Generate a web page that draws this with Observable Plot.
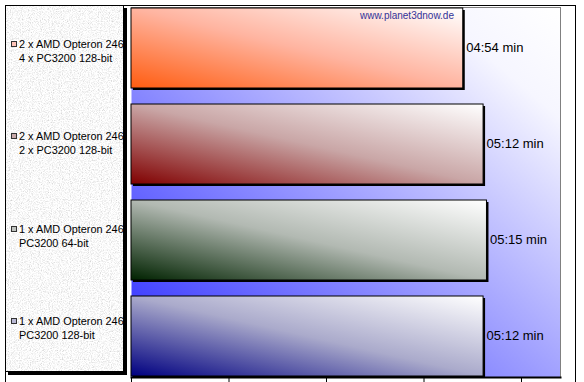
<!DOCTYPE html>
<html>
<head>
<meta charset="utf-8">
<script src="https://cdn.jsdelivr.net/npm/d3@7"></script>
<script src="https://cdn.jsdelivr.net/npm/@observablehq/plot@0.6"></script>
<style>
  html, body { margin: 0; padding: 0; background: #fff; overflow: hidden; }
  #wrap { position: relative; width: 584px; height: 382px; overflow: hidden; font-family: "Liberation Sans", Arial, sans-serif; }
  #chart { position: absolute; left: 0; top: 0; }
  #frame { position: absolute; left: 5px; top: 5px; width: 571px; height: 420px; border: 1px solid #000; box-sizing: border-box; pointer-events: none; }
  #legend { position: absolute; left: 5px; top: 5px; width: 119px; height: 367px; border: 1px solid #000; box-sizing: border-box; box-shadow: 3px 3px 0 #000; overflow: hidden; }
  #legend svg.tex { position: absolute; left: 0; top: 0; }
  .lg { position: absolute; font-size: 10.9px; line-height: 14px; color: #000; white-space: nowrap; }
  .mk { position: absolute; width: 4px; height: 4px; border: 1px solid #333; }
  #wm { position: absolute; font-size: 10px; color: #333399; white-space: nowrap; }
</style>
</head>
<body>
<div id="wrap">
  <div id="chart"></div>
  <div id="legend">
    <svg class="tex" width="119" height="367">
      <filter id="noise" x="0" y="0" width="100%" height="100%">
        <feTurbulence type="fractalNoise" baseFrequency="0.9" numOctaves="3" seed="7"/>
        <feColorMatrix type="saturate" values="0"/>
        <feComponentTransfer>
          <feFuncR type="linear" slope="1.0" intercept="0.45"/>
          <feFuncG type="linear" slope="1.0" intercept="0.45"/>
          <feFuncB type="linear" slope="1.0" intercept="0.45"/>
          <feFuncA type="linear" slope="0" intercept="1"/>
        </feComponentTransfer>
      </filter>
      <rect width="119" height="367" filter="url(#noise)"/>
    </svg>
  </div>
  <div id="frame"></div>
  <div id="wm"></div>
</div>
<script>
// ---- data ----
const line1 = ["2 x AMD Opteron 246", "2 x AMD Opteron 246", "1 x AMD Opteron 246", "1 x AMD Opteron 246"];
const line2 = ["4 x PC3200 128-bit", "2 x PC3200 128-bit", "PC3200 64-bit", "PC3200 128-bit"];
const times = ["04:54", "05:12", "05:15", "05:12"];
const xTicks = [0, 0.001, 0.002, 0.003, 0.004];   // Excel time axis (days)
const watermark = "www.planet3dnow.de";
const unit = "min";

// ---- styles ----
const barStops = [
  [[0, "#ff5c10"], [0.5, "#ffb4a0"], [1, "#ffffff"]],
  [[0, "#800000"], [0.5, "#c9a6a6"], [1, "#ffffff"]],
  [[0, "#002200"], [0.5, "#b2b9b2"], [1, "#ffffff"]],
  [[0, "#000080"], [0.5, "#aaaacb"], [1, "#ffffff"]]
];
const markerColors = ["#ffc4b8", "#c8aaaa", "#c0c4c0", "#b8b8d4"];
const bgStops = [[0, "#2828ff"], [0.85, "#f6f6ff"], [1, "#ffffff"]];

const toDays = t => { const [m, s] = t.split(":").map(Number); return (m * 60 + s) / 86400; };
const keys = line1.map((_, i) => "k" + i);
const data = keys.map((k, i) => ({ key: k, time: times[i], days: toDays(times[i]), grad: `url(#barGrad${i})` }));

const chart = Plot.plot({
  width: 584,
  height: 382,
  marginLeft: 131,
  marginRight: 24,
  marginTop: 7,
  marginBottom: 5,
  style: { background: "transparent", fontFamily: "Liberation Sans, Arial, sans-serif" },
  x: { domain: [0, 0.0044], axis: null },
  y: { domain: keys, axis: null, paddingInner: 0.17, paddingOuter: 0 },
  color: { type: "identity" },
  marks: [
    Plot.frame({ fill: "url(#bgGrad)", stroke: "none" }),
    Plot.frame({ anchor: "top", stroke: "#808080" }),
    Plot.frame({ anchor: "right", stroke: "#808080" }),
    Plot.barX(data, { x: "days", y: "key", fill: "#000", dx: 2, dy: 2 }),
    Plot.barX(data, { x: "days", y: "key", fill: d => d.grad, stroke: "#000", strokeWidth: 1 }),
    Plot.text(data, { x: "days", y: "key", text: d => `${d.time} ${unit}`, textAnchor: "start", dx: 3, dy: -1, fontSize: 13, fill: "#000" }),
    Plot.axisX({ ticks: xTicks, tickSize: 5, tickFormat: () => "", stroke: "#000", label: null }),
    Plot.frame({ anchor: "bottom", stroke: "#000", strokeWidth: 2 })
  ]
});
document.getElementById("chart").appendChild(chart);

// gradients
const defs = d3.select(chart).insert("defs", ":first-child");
function addGrad(id, stops) {
  const g = defs.append("linearGradient").attr("id", id)
    .attr("x1", 0).attr("y1", 1).attr("x2", 1).attr("y2", 0);
  stops.forEach(([o, c]) => g.append("stop").attr("offset", o).attr("stop-color", c));
}
addGrad("bgGrad", bgStops);
barStops.forEach((s, i) => addGrad("barGrad" + i, s));

// legend
const legend = document.getElementById("legend");
const legendTops = [44, 136.3, 228.6, 321];
line1.forEach((t, i) => {
  const cy = legendTops[i] - 6; // relative to legend box content
  const mk = document.createElement("div");
  mk.className = "mk";
  mk.style.left = "5px"; mk.style.top = (cy - 3) + "px";
  mk.style.background = markerColors[i];
  legend.appendChild(mk);
  const a = document.createElement("div");
  a.className = "lg"; a.textContent = t;
  a.style.left = "13px"; a.style.top = (cy - 7) + "px";
  legend.appendChild(a);
  const b = document.createElement("div");
  b.className = "lg"; b.textContent = line2[i];
  b.style.left = "13px"; b.style.top = (cy + 7) + "px";
  legend.appendChild(b);
});

const wm = document.getElementById("wm");
wm.textContent = watermark;
wm.style.left = "360px"; wm.style.top = "10px";
</script>
</body>
</html>
